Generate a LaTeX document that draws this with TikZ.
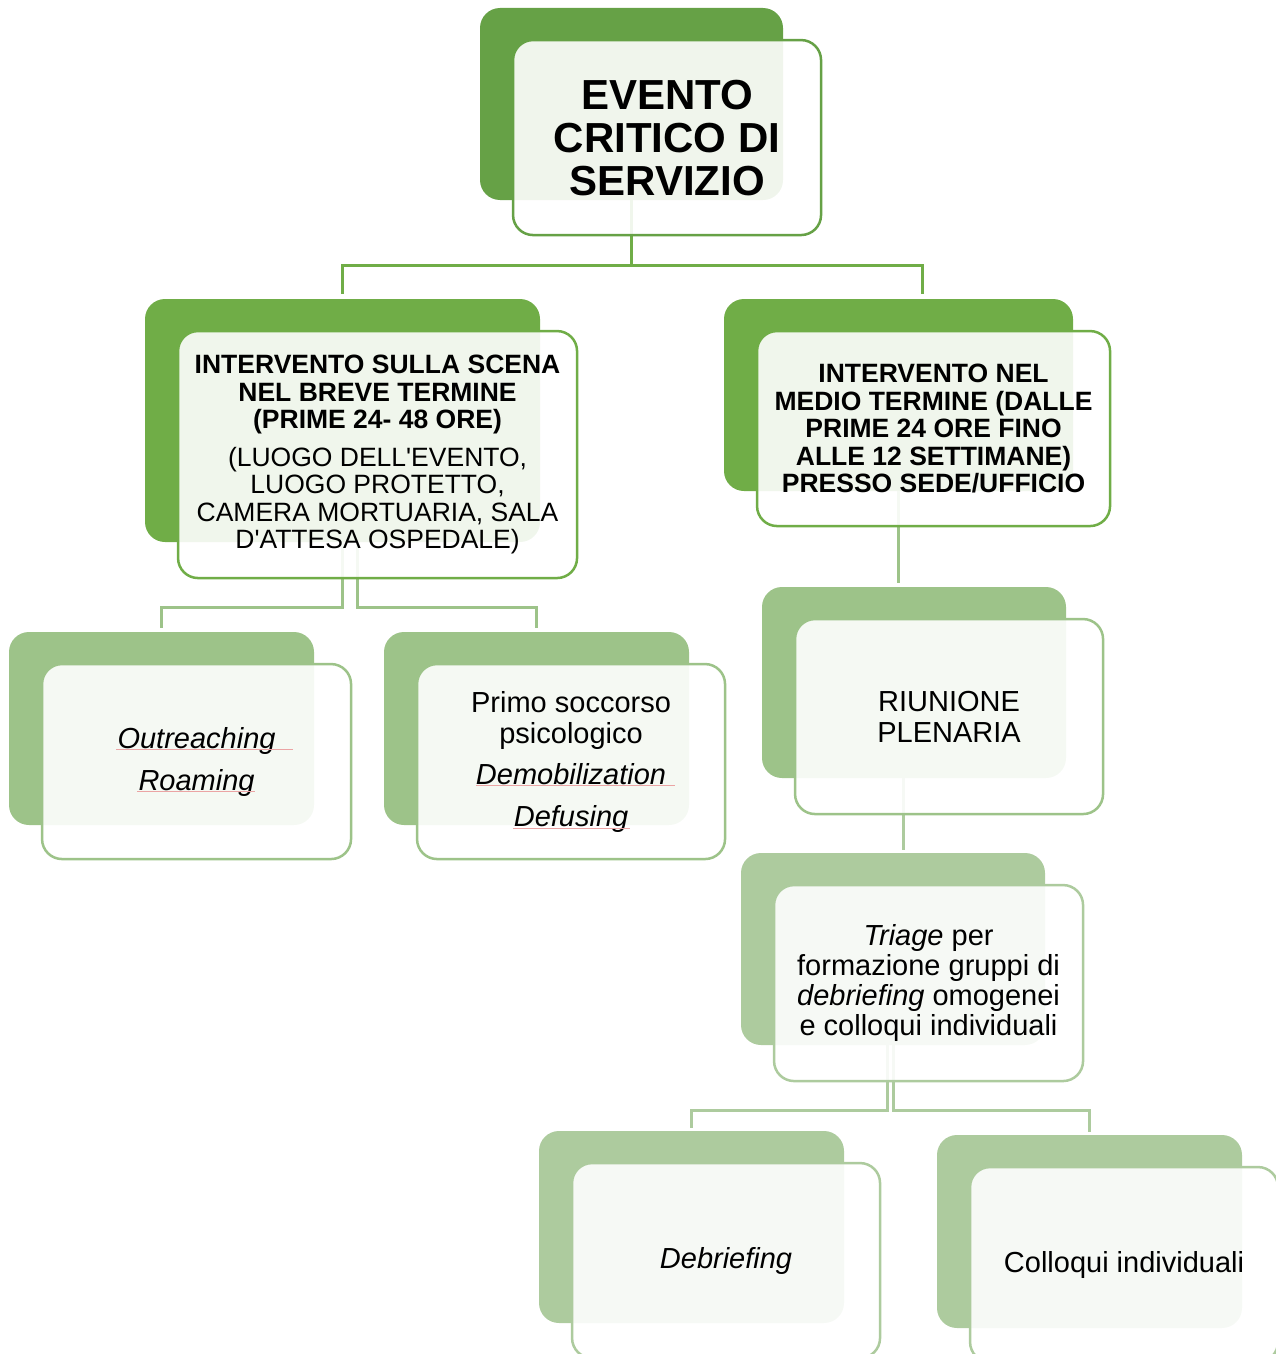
\documentclass[tikz,border=0pt]{standalone}
\usepackage{fontspec}
\setmainfont{Liberation Sans}
\usetikzlibrary{positioning}

\definecolor{greenA}{HTML}{66A146}
\definecolor{greenB}{HTML}{70AD47}
\definecolor{greenC}{HTML}{9DC389}
\definecolor{greenD}{HTML}{ADCB9E}
\definecolor{spell}{HTML}{EBA4A4}

\tikzset{
  backbox/.style={rounded corners=20, inner sep=0pt},
  frontbox/.style={rounded corners=20, line width=2.5, fill=white, fill opacity=0.9,
    text opacity=1, align=center, inner sep=0pt},
  link/.style={line width=3},
  bigtext/.style={font=\fontsize{42}{43}\selectfont\bfseries},
  midtext/.style={font=\fontsize{26.5}{27.5}\selectfont\bfseries},
  smalltext/.style={font=\fontsize{29}{31}\selectfont},
  italtext/.style={font=\fontsize{29}{31}\selectfont\itshape},
}

\begin{document}
\begin{tikzpicture}[x=1pt, y=-1pt]
                \def\dx{32pt}
                \def\dy{31pt}
                \useasboundingbox (0,0) rectangle (1275,1354);

                \node[backbox, fill=greenA, minimum width=303, minimum height=192] (evento-b) at (631.5,104) {};
                \node[backbox, fill=greenB, minimum width=395, minimum height=243] (scena-b) at (342.5,420.5) {};
                \node[backbox, fill=greenB, minimum width=349, minimum height=192] (medio-b) at (898.5,395) {};
                \node[backbox, fill=greenC, minimum width=305, minimum height=193] (outreach-b) at (161.5,728.5) {};
                \node[backbox, fill=greenC, minimum width=305, minimum height=193] (primo-b) at (536.5,728.5) {};
                \node[backbox, fill=greenC, minimum width=304, minimum height=191] (riunione-b) at (914,682.5) {};
                \node[backbox, fill=greenD, minimum width=304, minimum height=192] (triage-b) at (893,949) {};
                \node[backbox, fill=greenD, minimum width=305, minimum height=192] (debrief-b) at (691.5,1227) {};
                \node[backbox, fill=greenD, minimum width=305, minimum height=193] (colloqui-b) at (1089.5,1231.5) {};

                \draw[link, greenB, shorten >=5pt] (evento-b.south) -- ++(0,65) -| (scena-b.north);
                \draw[link, greenB, shorten >=5pt] (evento-b.south) -- ++(0,65) -| ([xshift=23.5pt]medio-b.north);
                \draw[link, greenC, shorten >=4pt] (scena-b.south) -- ++(0,65) -| (outreach-b.north);
                \draw[link, greenC, shorten >=4pt] ([xshift=15pt]scena-b.south) -- ++(0,65) -| (primo-b.north);
                \draw[link, greenC, shorten >=4pt] (medio-b.south) -- (medio-b.south |- riunione-b.north);
                \coordinate (rt) at ([xshift=-11pt]riunione-b.south);
                \draw[link, greenD, shorten >=3pt] (rt) -- (rt |- triage-b.north);
                \draw[link, greenD, shorten >=3pt] ([xshift=-6pt]triage-b.south) -- ++(0,65) -| (debrief-b.north);
                \draw[link, greenD, shorten >=3pt] (triage-b.south) -- ++(0,65) -| (colloqui-b.north);

                \node[frontbox, bigtext, draw=greenA, minimum width=308, minimum height=195,
                  below right=\dy and \dx of evento-b.north west] (evento) {EVENTO\\CRITICO DI\\SERVIZIO};
                \node[frontbox, midtext, draw=greenB, minimum width=399, minimum height=247,
                  below right=\dy and \dx of scena-b.north west] (scena)
                  {INTERVENTO SULLA SCENA\\NEL BREVE TERMINE\\(PRIME 24- 48 ORE)\\[10pt]
                   \mdseries(LUOGO DELL\textquotesingle EVENTO,\\\mdseries LUOGO PROTETTO,\\
                   \mdseries CAMERA MORTUARIA, SALA\\\mdseries D\textquotesingle ATTESA OSPEDALE)};
                \node[frontbox, midtext, draw=greenB, minimum width=353, minimum height=195,
                  below right=\dy and \dx of medio-b.north west] (medio)
                  {INTERVENTO NEL\\MEDIO TERMINE (DALLE\\PRIME 24 ORE FINO\\ALLE 12 SETTIMANE)\\PRESSO SEDE/UFFICIO};
                \node[frontbox, italtext, draw=greenC, minimum width=309, minimum height=195,
                  below right=\dy and \dx of outreach-b.north west] (outreach) {Outreaching\\[11pt]Roaming};
                \node[frontbox, smalltext, draw=greenC, minimum width=308, minimum height=195,
                  below right=\dy and \dx of primo-b.north west] (primo)
                  {Primo soccorso\\psicologico\\[10pt]\textit{Demobilization}\\[11pt]\textit{Defusing}};
                \node[frontbox, smalltext, draw=greenC, minimum width=308, minimum height=195,
                  below right=\dy and \dx of riunione-b.north west] (riunione) {RIUNIONE\\PLENARIA};
                \node[frontbox, font=\fontsize{29}{30}\selectfont, draw=greenD, minimum width=309, minimum height=196,
                  below right=\dy and \dx of triage-b.north west] (triage)
                  {\textit{Triage} per\\formazione gruppi di\\\textit{debriefing} omogenei\\e colloqui individuali};
                \node[frontbox, italtext, draw=greenD, minimum width=308, minimum height=195,
                  below right=\dy and \dx of debrief-b.north west] (debrief) {Debriefing};
                \node[frontbox, smalltext, draw=greenD, minimum width=308, minimum height=195,
                  below right=\dy and \dx of colloqui-b.north west] (colloqui) {Colloqui individuali};

                \draw[spell, line width=1] (116,749) -- (293,749);
                \draw[spell, line width=1] (137,791) -- (255,791);
                \draw[spell, line width=1] (476,785) -- (675,785);
                \draw[spell, line width=1] (513,828) -- (630,828);
\end{tikzpicture}
\end{document}
